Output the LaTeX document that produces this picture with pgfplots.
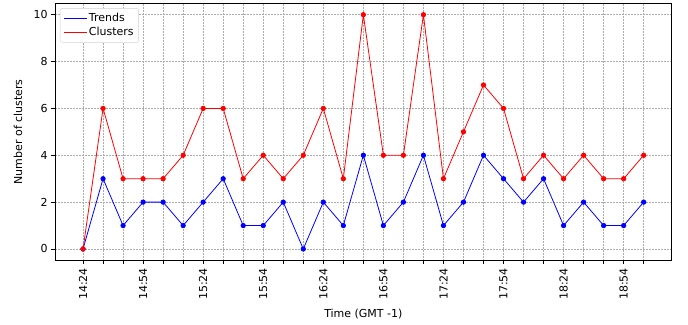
\documentclass[border=0pt]{standalone}
\usepackage{pgfplots}
\pgfplotsset{compat=1.18}
\usepackage{fontspec}
\setmainfont{DejaVu Sans}
\begin{document}
\fontsize{11bp}{13bp}\selectfont
\begin{tikzpicture}
\useasboundingbox (-55bp,-64.3bp) rectangle (633bp,260.7bp);
\begin{axis}[
  at={(0,0)}, anchor=south west,
  scale only axis, width=616.7bp, height=257.7bp,
  xmin=-1.4, xmax=29.4, ymin=-0.5, ymax=10.5,
  xtick={0,...,28},
  xticklabels={14:24,,,14:54,,,15:24,,,15:54,,,16:24,,,16:54,,,17:24,,,17:54,,,18:24,,,18:54,},
  ytick={0,2,...,10},
  /pgf/number format/assume math mode=true,
  tick label style={font=\fontsize{11bp}{13bp}\selectfont},
  xticklabel style={rotate=90, anchor=east},
  tick align=outside, tick pos=left,
  major tick length=3.5bp,
  tick style={black, line width=0.8bp},
  axis line style={line width=0.9bp},
  grid=major,
  major grid style={gray!65, line width=0.6bp, dash pattern=on 1.5bp off 1.5bp},
  xlabel={Time (GMT -1)},
  ylabel={Number of clusters},
  label style={font=\fontsize{11bp}{13bp}\selectfont},
  xlabel style={at={(axis description cs:0.5,0)}, anchor=center, yshift=-53bp},
  ylabel style={at={(axis description cs:0,0.5)}, anchor=center, xshift=0bp, yshift=37bp},
  legend style={at={(0.008,0.98)}, anchor=north west, draw=gray!35, fill=white, rounded corners=2bp,
    font=\fontsize{11bp}{13bp}\selectfont, inner xsep=3bp, inner ysep=3bp},
  legend cell align=left,
  legend image code/.code={\draw[#1] (0bp,0bp) -- (23bp,0bp);},
]
\addplot[blue, line width=0.8bp, mark=*, mark size=2.2bp, mark options={solid}] coordinates {
(0,0)(1,3)(2,1)(3,2)(4,2)(5,1)(6,2)(7,3)(8,1)(9,1)(10,2)(11,0)(12,2)(13,1)(14,4)
(15,1)(16,2)(17,4)(18,1)(19,2)(20,4)(21,3)(22,2)(23,3)(24,1)(25,2)(26,1)(27,1)(28,2)};
\addlegendentry{Trends}
\addplot[red, line width=0.8bp, mark=*, mark size=2.2bp, mark options={solid}] coordinates {
(0,0)(1,6)(2,3)(3,3)(4,3)(5,4)(6,6)(7,6)(8,3)(9,4)(10,3)(11,4)(12,6)(13,3)(14,10)
(15,4)(16,4)(17,10)(18,3)(19,5)(20,7)(21,6)(22,3)(23,4)(24,3)(25,4)(26,3)(27,3)(28,4)};
\addlegendentry{Clusters}
\end{axis}
\end{tikzpicture}
\end{document}
